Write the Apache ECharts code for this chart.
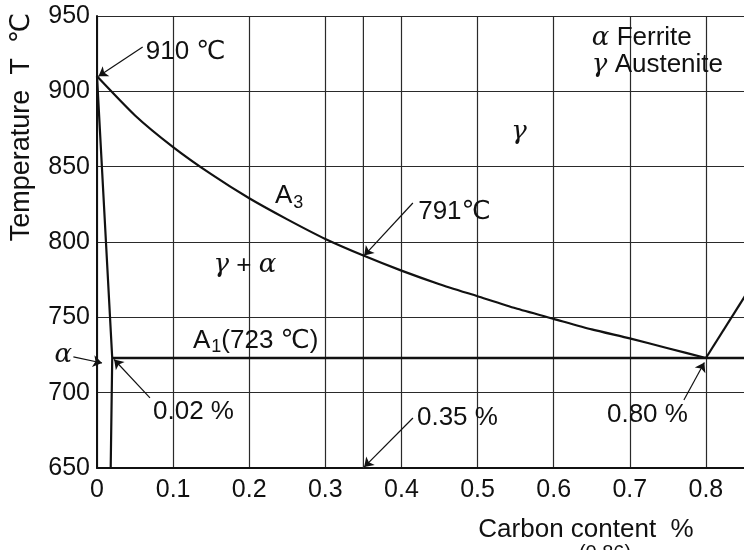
<!DOCTYPE html>
<html>
<head>
<meta charset="utf-8">
<script src="https://cdn.jsdelivr.net/npm/echarts@6/dist/echarts.min.js"></script>
<style>
  html, body { margin: 0; padding: 0; background: #fff; }
  #chart { width: 744px; height: 550px; }
</style>
</head>
<body>
<div id="chart"></div>
<script>
// Fe–C diagram, hypoeutectoid corner: carbon content (%) vs temperature (°C)

// A3 line: ferrite starts forming from austenite
const a3Carbon = [0, 0.05, 0.1, 0.15, 0.2, 0.25, 0.3, 0.35, 0.4, 0.45, 0.5, 0.55, 0.6, 0.65, 0.7, 0.75, 0.8];
const a3Temp   = [910, 884, 863, 845, 829, 815, 802, 791, 781, 772, 764, 756, 749, 742, 736, 729.5, 723];

// alpha solvus (max carbon solubility in ferrite)
const solvusCarbon = [0, 0.02, 0.018];
const solvusTemp   = [910, 723, 650];

// Acm line rising from the eutectoid point
const acmCarbon = [0.8, 0.9];
const acmTemp   = [723, 803];

// A1 eutectoid isotherm
const a1Carbon = [0.02, 0.9];
const a1Temp   = [723, 723];

// marked composition line
const markedCarbon = 0.35;

// axis ranges
const carbonRange = [0, 0.9];
const tempRange   = [650, 950];

// callouts: text anchor [carbon, temp] and arrow [from, to]
const callouts = [
  { text: '910 ℃',      at: [0.064, 926],  arrow: [[0.060, 929.4], [0.002, 910]] },
  { text: '791℃',       at: [0.422, 819.9], arrow: [[0.415, 825.9], [0.351, 791]] },
  { text: '{g|α}',      at: [-0.056, 725],  arrow: [[-0.031, 723.7], [0.0066, 719.7]] },
  { text: '0.02 %',     at: [0.0736, 687.2], arrow: [[0.0696, 696.5], [0.0225, 722]] },
  { text: '0.35 %',     at: [0.4204, 683.2], arrow: [[0.4151, 683.2], [0.351, 650.6]] },
  { text: '0.80 %',     at: [0.67, 685.2],  arrow: [[0.7711, 695.1], [0.798, 720]] }
];

// region and line names
const regionLabels = [
  { text: 'A{sub|3}',          at: [0.2338, 830.5], align: 'left' },
  { text: '{g|γ}',             at: [0.5544, 873],   align: 'center' },
  { text: '{g|γ} + {g|α}',     at: [0.1944, 784.5], align: 'center' },
  { text: 'A{sub|1}(723 ℃)',   at: [0.1261, 734.3], align: 'left' },
  { text: '{g|α} Ferrite',     at: [0.6502, 935.4], align: 'left' },
  { text: '{g|γ} Austenite',   at: [0.6502, 917.5], align: 'left' }
];

const zip = (xs, ys) => xs.map((x, i) => [x, ys[i]]);

const FONT = "'Liberation Sans', 'DejaVu Sans', Arial, sans-serif";
const INK = '#111';
const rich = {
  g:   { fontFamily: "'DejaVu Serif', 'Liberation Serif', serif", fontStyle: 'italic', fontSize: 26, color: INK },
  sub: { fontFamily: FONT, fontSize: 18, color: INK, padding: [13, 0, 0, 1] }
};

const labelItems = callouts.map(c => ({ value: c.at, label: { formatter: c.text, align: 'left' } }))
  .concat(regionLabels.map(r => ({ value: r.at, label: { formatter: r.text, align: r.align } })));

const chart = echarts.init(document.getElementById('chart'), null, { renderer: 'canvas' });

chart.setOption({
  backgroundColor: '#fff',
  animation: false,
  grid: { left: 97, top: 16, width: 685, height: 452, outerBoundsMode: 'none', containLabel: false },
  xAxis: {
    type: 'value',
    min: carbonRange[0], max: carbonRange[1], interval: 0.1,
    axisLine: { show: true, lineStyle: { color: INK, width: 2 } },
    axisTick: { show: false },
    axisLabel: { color: INK, fontFamily: FONT, fontSize: 25, margin: 10 },
    splitLine: { show: true, lineStyle: { color: '#2a2a2a', width: 1.2 } }
  },
  yAxis: {
    type: 'value',
    min: tempRange[0], max: tempRange[1], interval: 50,
    axisLine: { show: true, lineStyle: { color: INK, width: 2 } },
    axisTick: { show: false },
    axisLabel: { color: INK, fontFamily: FONT, fontSize: 25, margin: 7 },
    splitLine: { show: true, lineStyle: { color: '#2a2a2a', width: 1.2 } }
  },
  graphic: [
    {
      type: 'text', x: 22, y: 127, rotation: Math.PI / 2,
      style: { text: 'Temperature  T  ℃', font: '27px ' + FONT, fill: INK, align: 'center', verticalAlign: 'middle' }
    },
    {
      type: 'text', x: 586, y: 530,
      style: { text: 'Carbon content  %', font: '26px ' + FONT, fill: INK, align: 'center', verticalAlign: 'middle' }
    },
    {
      type: 'text', x: 605, y: 543,
      style: { text: '(0.86)', font: '20px ' + FONT, fill: INK, align: 'center', verticalAlign: 'top' }
    }
  ],
  series: [
    {
      name: 'marked composition', type: 'line', symbol: 'none', silent: true, z: 1,
      data: [[markedCarbon, tempRange[0]], [markedCarbon, tempRange[1]]],
      lineStyle: { color: '#2a2a2a', width: 1.2 }
    },
    {
      name: 'A3', type: 'line', symbol: 'none', smooth: 0.2, z: 3,
      data: zip(a3Carbon, a3Temp),
      lineStyle: { color: INK, width: 2.2 }
    },
    {
      name: 'solvus', type: 'line', symbol: 'none', z: 3,
      data: zip(solvusCarbon, solvusTemp),
      lineStyle: { color: INK, width: 2.2 }
    },
    {
      name: 'Acm', type: 'line', symbol: 'none', z: 3,
      data: zip(acmCarbon, acmTemp),
      lineStyle: { color: INK, width: 2.2 }
    },
    {
      name: 'A1', type: 'line', symbol: 'none', z: 3,
      data: zip(a1Carbon, a1Temp),
      lineStyle: { color: INK, width: 2.4 }
    },
    {
      name: 'callout arrows', type: 'lines', coordinateSystem: 'cartesian2d', clip: false, z: 4,
      symbol: ['none', 'arrow'], symbolSize: 9,
      data: callouts.map(c => ({ coords: c.arrow })),
      lineStyle: { color: INK, width: 1.2, opacity: 1 }
    },
    {
      name: 'labels', type: 'scatter', clip: false, z: 5, silent: true,
      symbolSize: 1, itemStyle: { color: 'rgba(0,0,0,0)', opacity: 1 },
      label: {
        show: true, position: 'inside', verticalAlign: 'middle',
        color: INK, fontFamily: FONT, fontSize: 26, rich: rich
      },
      data: labelItems
    }
  ]
});
</script>
</body>
</html>
